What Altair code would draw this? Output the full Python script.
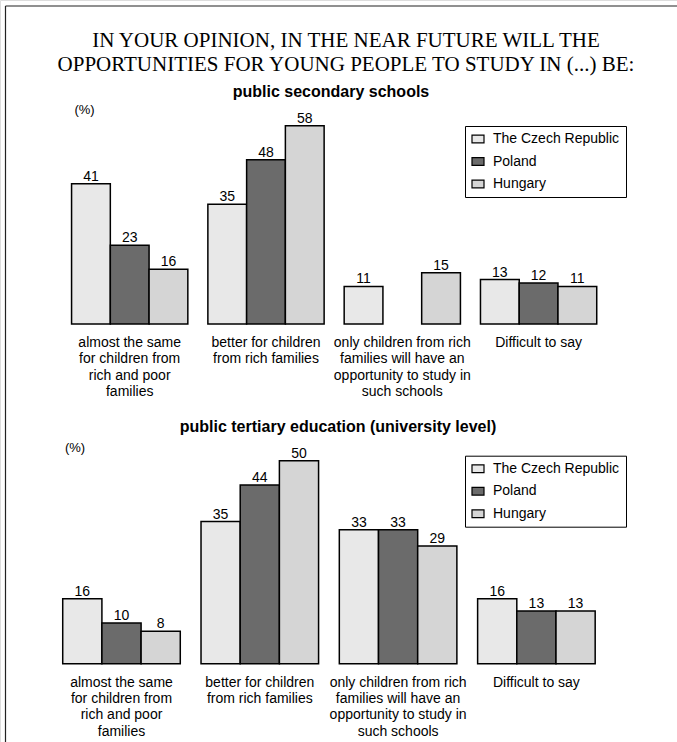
import altair as alt
import pandas as pd

# Answer categories (line breaks mark how the labels wrap under each group)
categories = [
    "almost the same\nfor children from\nrich and poor\nfamilies",
    "better for children\nfrom rich families",
    "only children from rich\nfamilies will have an\nopportunity to study in\nsuch schools",
    "Difficult to say",
]
countries = ["The Czech Republic", "Poland", "Hungary"]
country_colors = ["#e8e8e8", "#6b6b6b", "#d5d5d5"]

# Public secondary schools (%)
secondary_czech = [41, 35, 11, 13]
secondary_poland = [23, 48, None, 12]
secondary_hungary = [16, 58, 15, 11]

# Public tertiary education (%)
tertiary_czech = [16, 35, 33, 16]
tertiary_poland = [10, 44, 33, 13]
tertiary_hungary = [8, 50, 29, 13]

title_lines = [
    "IN YOUR OPINION, IN THE NEAR FUTURE WILL THE",
    "OPPORTUNITIES FOR YOUNG PEOPLE TO STUDY IN (...) BE:",
]
secondary_title = "public secondary schools"
tertiary_title = "public tertiary education (university level)"
unit_label = "(%)"

SANS = "Liberation Sans"
SERIF = "Liberation Serif"


def long_table(czech, poland, hungary):
    rows = []
    for series, name in zip([czech, poland, hungary], countries):
        for cat, v in zip(categories, series):
            if v is not None:
                rows.append({"category": cat, "country": name, "value": v})
    return pd.DataFrame(rows)


cat_df = pd.DataFrame({"category": categories})
one_row = pd.DataFrame({"k": [0]})


def panel(df, x_range, y_domain, y_range, pad_inner, legend_y):
    xs = alt.Scale(domain=categories, range=x_range,
                   paddingInner=pad_inner, paddingOuter=pad_inner / 2)
    xo = alt.Scale(domain=countries, paddingInner=0, paddingOuter=0)
    ys = alt.Scale(domain=y_domain, range=y_range, nice=False, zero=True)
    x_enc = alt.X("category:N", sort=categories, scale=xs, axis=None)
    xo_enc = alt.XOffset("country:N", sort=countries, scale=xo)
    legend = alt.Legend(
        title=None, orient="none", legendX=465, legendY=legend_y,
        fillColor="white", strokeColor="black", padding=6,
        rowPadding=8.5, labelFont=SANS, labelFontSize=14,
        labelColor="black", labelOffset=8,
        symbolType="M-1,-0.65L1,-0.65L1,0.65L-1,0.65Z", symbolSize=144,
        symbolStrokeColor="black", symbolStrokeWidth=1.2,
    )
    bars = alt.Chart(df).mark_bar(stroke="black", strokeWidth=1.5).encode(
        x=x_enc,
        xOffset=xo_enc,
        y=alt.Y("value:Q", scale=ys, axis=None),
        color=alt.Color("country:N", sort=countries,
                        scale=alt.Scale(domain=countries, range=country_colors),
                        legend=legend),
    )
    values = alt.Chart(df).mark_text(
        font=SANS, fontSize=14, color="black", dy=-7
    ).encode(
        x=x_enc,
        xOffset=xo_enc,
        y=alt.Y("value:Q", scale=ys, axis=None),
        text="value:Q",
    )
    cats = alt.Chart(cat_df).mark_text(
        font=SANS, fontSize=14, color="black", baseline="top",
        lineBreak="\n", lineHeight=16.3, dy=12,
    ).encode(
        x=x_enc,
        y=alt.Y(datum=0, scale=ys, axis=None),
        text="category:N",
    )
    return alt.layer(bars, values, cats)


top = panel(long_table(secondary_czech, secondary_poland, secondary_hungary),
            [61.55, 606.75], [0, 60], [324, 118.8], 0.147, 126)
bottom = panel(long_table(tertiary_czech, tertiary_poland, tertiary_hungary),
               [52.35, 605.55], [0, 50], [663.7, 460.7], 0.15, 455.7)


def label(text, x, y, font=SANS, size=13, weight="normal"):
    return alt.Chart(one_row).mark_text(
        font=font, fontSize=size, fontWeight=weight, color="black", align="center"
    ).encode(x=alt.value(x), y=alt.value(y), text=alt.value(text))


decor = [
    label(title_lines[0], 346, 41, font=SERIF, size=21),
    label(title_lines[1], 346, 65, font=SERIF, size=21),
    label(secondary_title, 331, 92, size=16, weight="bold"),
    label(tertiary_title, 338, 426.5, size=16, weight="bold"),
    label(unit_label, 84.5, 109.5),
    label(unit_label, 75, 447.5),
]

frame = [
    alt.Chart(one_row).mark_rule(color="#222", strokeWidth=1.2).encode(
        x=alt.value(5.5), y=alt.value(6), y2=alt.value(742)),
    alt.Chart(one_row).mark_rule(color="#222", strokeWidth=1.2).encode(
        x=alt.value(5.5), x2=alt.value(677), y=alt.value(6)),
]

chart = alt.layer(top, bottom, *decor, *frame).resolve_scale(
    x="independent", y="independent", xOffset="independent", color="independent"
).properties(
    width=677, height=742, autosize="none", padding=0
).configure_view(stroke=None).configure(background="white")

chart.save("out.html", embed_options={"renderer": "svg", "actions": False})
